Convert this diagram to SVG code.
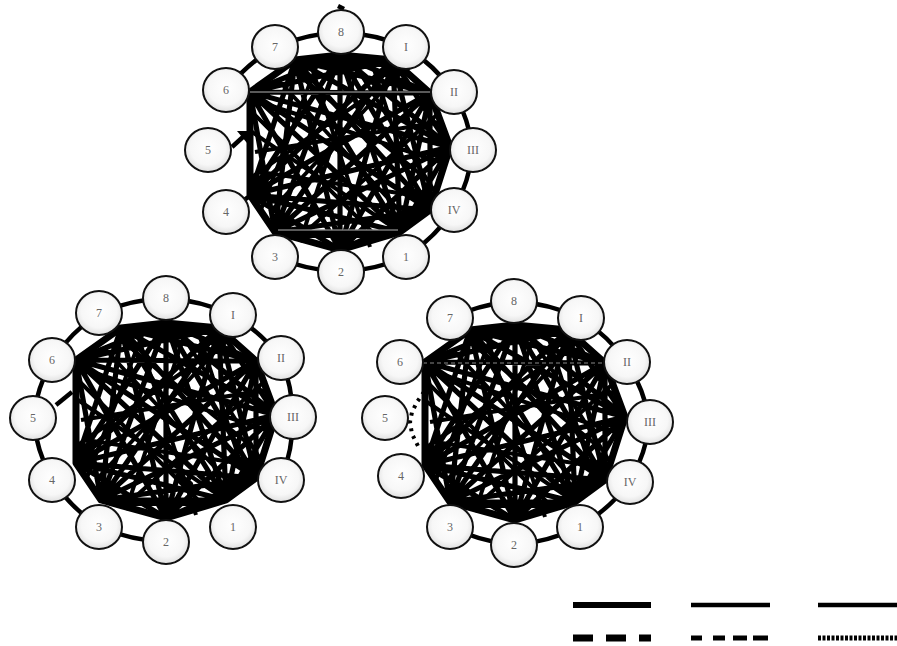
<svg xmlns="http://www.w3.org/2000/svg" xmlns:xlink="http://www.w3.org/1999/xlink" width="897" height="646" viewBox="0 0 897 646">
<style>
.node ellipse{fill:url(#ng);stroke:#111;stroke-width:2}
.node text{font-family:"Liberation Serif",serif;font-size:12px;fill:#666;text-anchor:middle;dominant-baseline:central}
.ring{fill:none;stroke:#000;stroke-width:4.5}
.mesh{fill:none;stroke:#000;stroke-width:5.2;stroke-linejoin:round}
.mesh2{fill:none;stroke:#000;stroke-width:4;stroke-linejoin:round}
.hull{fill:none;stroke:#000;stroke-width:7;stroke-linejoin:round}
.leg{fill:none;stroke:#000}
</style>
<defs>
<radialGradient id="ng" cx="50%" cy="45%" r="55%">
<stop offset="0" stop-color="#ffffff"/>
<stop offset="0.7" stop-color="#f7f7f7"/>
<stop offset="1" stop-color="#e0e0e0"/>
</radialGradient>
<g id="mesh">
<path class="mesh" d="M0 -97L53 -92M0 -97L90 -59M0 -97L110 -5M0 -97L90 58M0 -97L60 80M0 -97L0 98M0 -97L-65 80M0 -97L-90 43M0 -97L-90 -60M0 -97L-45 -92M53 -92L90 -59M53 -92L110 -5M53 -92L90 58M53 -92L60 80M53 -92L0 98M53 -92L-65 80M53 -92L-90 43M53 -92L-90 -60M53 -92L-45 -92M90 -59L110 -5M90 -59L90 58M90 -59L60 80M90 -59L0 98M90 -59L-65 80M90 -59L-90 43M90 -59L-90 -60M90 -59L-45 -92M110 -5L90 58M110 -5L60 80M110 -5L0 98M110 -5L-65 80M110 -5L-90 43M110 -5L-90 -60M110 -5L-45 -92M90 58L60 80M90 58L0 98M90 58L-65 80M90 58L-90 43M90 58L-90 -60M90 58L-45 -92M60 80L0 98M60 80L-65 80M60 80L-90 43M60 80L-90 -60M60 80L-45 -92M0 98L-65 80M0 98L-90 43M0 98L-90 -60M0 98L-45 -92M-65 80L-90 43M-65 80L-90 -60M-65 80L-45 -92M-90 43L-90 -60M-90 43L-45 -92M-90 -60L-45 -92"/>
<path class="mesh2" d="M-45 -80L90 30M-80 -50L100 10M-70 60L60 -80M-30 -90L30 95M20 -90L-40 90M-85 0L100 -30M-80 20L85 45M-60 -70L70 70M-88 -40L40 88M-88 25L70 -85M-40 85L100 -40M-88 -20L60 80M10 -95L95 40M-20 -95L-80 60M30 -95L80 60"/>
<path class="hull" d="M0 -97L53 -92L90 -59L110 -5L90 58L60 80L0 98L-65 80L-90 43L-90 -60L-45 -92Z"/>
<path d="M-45 -92L53 -92L45 -85L-38 -85Z M-65 80L60 80L50 86L-55 86Z" fill="#000"/>
</g>
</defs>
<rect width="897" height="646" fill="#fff"/>

<g id="connectors">
<!-- top graph -->
<use xlink:href="#mesh" href="#mesh" transform="translate(340,152)"/>
<path class="ring" d="M226 90A190 180 0 0 1 275 47M275 47A190 180 0 0 1 341 32M341 32A190 180 0 0 1 406 47M406 47A190 180 0 0 1 454 92M454 92A190 180 0 0 1 473 150M473 150A190 180 0 0 1 454 210M454 210A190 180 0 0 1 406 257M406 257A190 180 0 0 1 341 272M341 272A190 180 0 0 1 275 257"/>
<path class="ring" d="M226 212L262 188"/>
<path class="ring" d="M232 147L244 136" stroke-width="5"/>
<path d="M237 131L249 131L247 143Z" fill="#000"/>
<path class="ring" d="M338 6L344 9" stroke-width="3"/>
<path d="M250 92L430 92M278 230L398 230" stroke="#fff" stroke-width="1" opacity="0.7"/>

<!-- bottom-left graph -->
<use xlink:href="#mesh" href="#mesh" transform="translate(166,420)"/>
<path class="ring" d="M52 360A190 180 0 0 1 99 313M99 313A190 180 0 0 1 166 298M166 298A190 180 0 0 1 233 315M233 315A190 180 0 0 1 281 358M281 358A190 180 0 0 1 293 417M293 417A190 180 0 0 1 281 480M52 480A190 180 0 0 1 33 418M33 418A190 180 0 0 1 52 360M99 527A190 180 0 0 1 52 480M166 542A190 180 0 0 1 99 527"/>
<path class="ring" d="M56 405L72 392" stroke-width="5"/>
<path d="M180 477L190 484" stroke="#000" stroke-width="6" stroke-linecap="round"/>

<!-- bottom-right graph -->
<use xlink:href="#mesh" href="#mesh" transform="translate(515,422)"/>
<path class="ring" d="M450 318A190 180 0 0 1 514 301M514 301A190 180 0 0 1 581 318M581 318A190 180 0 0 1 627 362M627 362A190 180 0 0 1 650 422M650 422A190 180 0 0 1 630 482M630 482A190 180 0 0 1 580 527M580 527A190 180 0 0 1 514 545M514 545A190 180 0 0 1 450 527"/>
<path d="M424 392L417 402L412 412L410 422L412 434L418 446" fill="none" stroke="#000" stroke-width="4" stroke-dasharray="3 5"/>
<circle cx="437" cy="480" r="2" fill="#000"/>
<path d="M423 363L603 363" stroke="#888" stroke-width="1.2" stroke-dasharray="4 3"/>
</g>

<!-- top graph nodes -->
<g id="t7" class="node"><ellipse cx="275" cy="47" rx="23" ry="22"/><text x="275" y="47">7</text></g>
<g id="t8" class="node"><ellipse cx="341" cy="32" rx="23" ry="22"/><text x="341" y="32">8</text></g>
<g id="tI" class="node"><ellipse cx="406" cy="47" rx="23" ry="22"/><text x="406" y="47">I</text></g>
<g id="tII" class="node"><ellipse cx="454" cy="92" rx="23" ry="22"/><text x="454" y="92">II</text></g>
<g id="tIII" class="node"><ellipse cx="473" cy="150" rx="23" ry="22"/><text x="473" y="150">III</text></g>
<g id="tIV" class="node"><ellipse cx="454" cy="210" rx="23" ry="22"/><text x="454" y="210">IV</text></g>
<g id="t1" class="node"><ellipse cx="406" cy="257" rx="23" ry="22"/><text x="406" y="257">1</text></g>
<g id="t2" class="node"><ellipse cx="341" cy="272" rx="23" ry="22"/><text x="341" y="272">2</text></g>
<g id="t3" class="node"><ellipse cx="275" cy="257" rx="23" ry="22"/><text x="275" y="257">3</text></g>
<g id="t4" class="node"><ellipse cx="226" cy="212" rx="23" ry="22"/><text x="226" y="212">4</text></g>
<g id="t5" class="node"><ellipse cx="208" cy="150" rx="23" ry="22"/><text x="208" y="150">5</text></g>
<g id="t6" class="node"><ellipse cx="226" cy="90" rx="23" ry="22"/><text x="226" y="90">6</text></g>

<!-- bottom-left graph nodes -->
<g id="l7" class="node"><ellipse cx="99" cy="313" rx="23" ry="22"/><text x="99" y="313">7</text></g>
<g id="l8" class="node"><ellipse cx="166" cy="298" rx="23" ry="22"/><text x="166" y="298">8</text></g>
<g id="lI" class="node"><ellipse cx="233" cy="315" rx="23" ry="22"/><text x="233" y="315">I</text></g>
<g id="lII" class="node"><ellipse cx="281" cy="358" rx="23" ry="22"/><text x="281" y="358">II</text></g>
<g id="lIII" class="node"><ellipse cx="293" cy="417" rx="23" ry="22"/><text x="293" y="417">III</text></g>
<g id="lIV" class="node"><ellipse cx="281" cy="480" rx="23" ry="22"/><text x="281" y="480">IV</text></g>
<g id="l1" class="node"><ellipse cx="233" cy="527" rx="23" ry="22"/><text x="233" y="527">1</text></g>
<g id="l2" class="node"><ellipse cx="166" cy="542" rx="23" ry="22"/><text x="166" y="542">2</text></g>
<g id="l3" class="node"><ellipse cx="99" cy="527" rx="23" ry="22"/><text x="99" y="527">3</text></g>
<g id="l4" class="node"><ellipse cx="52" cy="480" rx="23" ry="22"/><text x="52" y="480">4</text></g>
<g id="l5" class="node"><ellipse cx="33" cy="418" rx="23" ry="22"/><text x="33" y="418">5</text></g>
<g id="l6" class="node"><ellipse cx="52" cy="360" rx="23" ry="22"/><text x="52" y="360">6</text></g>

<!-- bottom-right graph nodes -->
<g id="r7" class="node"><ellipse cx="450" cy="318" rx="23" ry="22"/><text x="450" y="318">7</text></g>
<g id="r8" class="node"><ellipse cx="514" cy="301" rx="23" ry="22"/><text x="514" y="301">8</text></g>
<g id="rI" class="node"><ellipse cx="581" cy="318" rx="23" ry="22"/><text x="581" y="318">I</text></g>
<g id="rII" class="node"><ellipse cx="627" cy="362" rx="23" ry="22"/><text x="627" y="362">II</text></g>
<g id="rIII" class="node"><ellipse cx="650" cy="422" rx="23" ry="22"/><text x="650" y="422">III</text></g>
<g id="rIV" class="node"><ellipse cx="630" cy="482" rx="23" ry="22"/><text x="630" y="482">IV</text></g>
<g id="r1" class="node"><ellipse cx="580" cy="527" rx="23" ry="22"/><text x="580" y="527">1</text></g>
<g id="r2" class="node"><ellipse cx="514" cy="545" rx="23" ry="22"/><text x="514" y="545">2</text></g>
<g id="r3" class="node"><ellipse cx="450" cy="527" rx="23" ry="22"/><text x="450" y="527">3</text></g>
<g id="r4" class="node"><ellipse cx="401" cy="476" rx="23" ry="22"/><text x="401" y="476">4</text></g>
<g id="r5" class="node"><ellipse cx="385" cy="418" rx="23" ry="22"/><text x="385" y="418">5</text></g>
<g id="r6" class="node"><ellipse cx="400" cy="362" rx="23" ry="22"/><text x="400" y="362">6</text></g>

<!-- legend -->
<g id="legend">
<path class="leg" d="M573 605L651 605" stroke-width="6"/>
<path class="leg" d="M691 605L770 605" stroke-width="4.5"/>
<path class="leg" d="M818 605L897 605" stroke-width="4.5"/>
<path class="leg" d="M573 638L651 638" stroke-width="7" stroke-dasharray="20 13"/>
<path class="leg" d="M691 638L768 638" stroke-width="5" stroke-dasharray="11 11 12 8 14 6 15"/>
<path class="leg" d="M818 638L897 638" stroke-width="5" stroke="#333" stroke-dasharray="3 1.5"/>
</g>
</svg>
